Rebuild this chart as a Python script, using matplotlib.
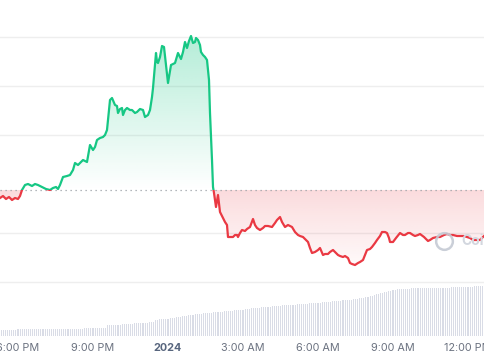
import numpy as np
import matplotlib.pyplot as plt
from matplotlib.path import Path
from matplotlib.patches import Rectangle
from matplotlib.colors import to_rgb

plt.rcParams['font.family'] = ['Inter', 'DejaVu Sans']

# price readings, time in hours since 2023-12-31 00:00
hours = [17.28, 17.40, 17.52, 17.64, 17.76, 17.88, 18.00, 18.08, 18.16, 18.28,
         18.40, 18.56, 18.68, 18.80, 18.96, 19.12, 19.28, 19.40, 19.52, 19.60,
         19.68, 19.80, 19.96, 20.08, 20.20, 20.28, 20.40, 20.52, 20.60, 20.76,
         20.88, 21.00, 21.08, 21.16, 21.28, 21.40, 21.48, 21.56, 21.68, 21.76,
         21.88, 21.96, 22.00, 22.08, 22.16, 22.20, 22.28, 22.36, 22.48, 22.56,
         22.68, 22.76, 22.88, 23.00, 23.08, 23.20, 23.28, 23.36, 23.40, 23.52,
         23.56, 23.60, 23.68, 23.76, 23.84, 23.92, 24.00, 24.12, 24.20, 24.28,
         24.40, 24.52, 24.60, 24.68, 24.76, 24.84, 24.92, 25.00, 25.08, 25.12,
         25.20, 25.28, 25.32, 25.40, 25.48, 25.56, 25.64, 25.68, 25.76, 25.80,
         25.84, 25.92, 26.00, 26.08, 26.20, 26.28, 26.36, 26.40, 26.52, 26.60,
         26.68, 26.76, 26.80, 26.88, 26.96, 27.08, 27.16, 27.28, 27.40, 27.48,
         27.56, 27.68, 27.80, 27.88, 28.00, 28.16, 28.28, 28.36, 28.48, 28.56,
         28.68, 28.80, 28.96, 29.08, 29.20, 29.28, 29.40, 29.52, 29.60, 29.68,
         29.76, 29.88, 30.00, 30.08, 30.20, 30.28, 30.40, 30.48, 30.60, 30.68,
         30.80, 30.88, 31.00, 31.08, 31.20, 31.28, 31.36, 31.48, 31.60, 31.68,
         31.80, 31.88, 31.96, 32.08, 32.16, 32.28, 32.36, 32.48, 32.56, 32.68,
         32.76, 32.84, 32.88, 33.00, 33.12, 33.28, 33.40, 33.48, 33.60, 33.68,
         33.80, 33.88, 34.00, 34.08, 34.24, 34.40, 34.48, 34.60, 34.76, 34.88,
         35.04, 35.16, 35.28, 35.40, 35.56, 35.68, 35.84, 35.96, 36.08, 36.20,
         36.36, 36.48, 36.60, 36.68]
price = [0.984, 0.986, 0.983, 0.985, 0.982, 0.984, 0.983, 0.986, 0.992, 0.997,
         0.998, 0.996, 0.998, 0.997, 0.995, 0.993, 0.992, 0.994, 0.995, 0.993,
         0.997, 1.005, 1.006, 1.007, 1.012, 1.019, 1.017, 1.020, 1.022, 1.020,
         1.037, 1.032, 1.035, 1.042, 1.044, 1.045, 1.047, 1.052, 1.082, 1.084,
         1.077, 1.076, 1.069, 1.073, 1.074, 1.067, 1.072, 1.074, 1.072, 1.072,
         1.069, 1.070, 1.073, 1.072, 1.065, 1.067, 1.072, 1.085, 1.094, 1.129,
         1.120, 1.119, 1.125, 1.136, 1.135, 1.117, 1.099, 1.117, 1.118, 1.119,
         1.129, 1.123, 1.130, 1.140, 1.134, 1.141, 1.146, 1.139, 1.140, 1.144,
         1.142, 1.137, 1.130, 1.127, 1.125, 1.122, 1.102, 1.069, 1.022, 0.995,
         0.989, 0.975, 0.987, 0.970, 0.964, 0.960, 0.957, 0.945, 0.945, 0.945,
         0.947, 0.947, 0.945, 0.949, 0.952, 0.951, 0.953, 0.955, 0.963, 0.957,
         0.954, 0.952, 0.954, 0.956, 0.956, 0.955, 0.959, 0.962, 0.965, 0.960,
         0.955, 0.957, 0.955, 0.950, 0.947, 0.946, 0.945, 0.942, 0.940, 0.934,
         0.929, 0.930, 0.932, 0.934, 0.927, 0.928, 0.928, 0.930, 0.932, 0.930,
         0.927, 0.926, 0.925, 0.926, 0.924, 0.919, 0.918, 0.917, 0.919, 0.920,
         0.922, 0.927, 0.932, 0.933, 0.935, 0.939, 0.942, 0.946, 0.950, 0.950,
         0.949, 0.944, 0.940, 0.940, 0.944, 0.949, 0.947, 0.947, 0.949, 0.949,
         0.947, 0.946, 0.947, 0.948, 0.945, 0.941, 0.942, 0.944, 0.945, 0.945,
         0.947, 0.948, 0.947, 0.947, 0.946, 0.946, 0.946, 0.945, 0.944, 0.942,
         0.942, 0.942, 0.945, 0.947]
open_price = 0.992

# 5-minute volume bars starting 17:20
volume = [6.4, 6.4, 6.4, 6.5, 6.5, 6.5, 6.5, 6.5,
          6.6, 6.6, 6.6, 6.6, 6.7, 6.7, 6.7, 6.7, 6.8, 6.8, 6.8, 6.8,
          6.9, 6.9, 6.9, 7.0, 7.0, 7.0, 7.0, 7.1, 7.1, 7.1, 7.2, 7.2,
          7.2, 7.3, 7.3, 7.3, 7.4, 7.4, 7.5, 7.5, 7.6, 7.6, 7.7, 7.7,
          7.8, 7.8, 7.9, 8.0, 8.0, 8.1, 8.2, 10.8, 11.0, 11.1, 11.2, 11.3,
          11.4, 11.5, 11.6, 11.8, 12.0, 12.1, 12.3, 12.4, 12.6, 12.8, 12.9, 13.0,
          13.1, 13.3, 13.5, 13.6, 13.8, 14.0, 16.2, 16.4, 16.6, 16.8, 17.0, 17.2,
          17.5, 17.8, 18.1, 18.4, 18.7, 19.0, 19.4, 19.7, 20.0, 20.3, 20.6, 21.0,
          21.3, 21.6, 21.9, 22.2, 22.5, 22.7, 22.9, 23.1, 23.3, 23.5, 23.7, 23.9,
          24.1, 24.3, 24.5, 24.7, 24.9, 25.0, 25.2, 25.4, 25.6, 25.8, 26.0, 26.2,
          26.5, 26.8, 27.1, 27.4, 27.6, 27.8, 28.0, 28.2, 28.4, 28.6, 28.8, 29.0,
          29.2, 29.4, 29.6, 29.8, 30.0, 30.2, 30.4, 30.6, 30.7, 30.8, 30.9, 31.0,
          31.2, 31.4, 31.6, 31.8, 32.0, 32.2, 32.4, 32.5, 32.6, 32.7, 32.8, 33.0,
          33.2, 33.4, 33.6, 33.8, 34.0, 34.2, 34.4, 34.6, 34.8, 35.0, 35.2, 35.4,
          35.6, 35.8, 36.0, 36.2, 36.5, 36.8, 37.1, 37.4, 37.7, 38.0, 38.4, 38.8,
          39.3, 39.8, 40.4, 41.0, 41.6, 42.2, 42.8, 43.4, 44.0, 44.5, 45.0, 45.5,
          46.0, 46.4, 46.7, 46.9, 47.1, 47.2, 47.3, 47.4, 47.5, 47.6, 47.6, 47.7,
          47.7, 47.8, 47.8, 47.9, 47.9, 48.0, 48.0, 48.1, 48.1, 48.2, 48.2, 48.3,
          48.3, 48.4, 48.4, 48.5, 48.6, 48.7, 48.8, 48.9, 49.0, 49.1, 49.2, 49.3,
          49.4, 49.5, 49.5, 49.6, 49.6, 49.7, 49.7, 49.8, 49.8]
vol_start = 17 + 20 / 60
vol_step = 5 / 60

tick_hours = [18, 21, 24, 27, 30, 33, 36]
tick_labels = ['6:00 PM', '9:00 PM', '2024', '3:00 AM', '6:00 AM', '9:00 AM', '12:00 PM']

assert len(hours) == len(price)

green = '#16c784'
red = '#ea3943'
x = np.array(hours)
y = np.array(price)
xlim = (17.28, 36.68)


def gradient_fill(ax, lo, hi, color, a_lo, a_hi):
    poly = ax.fill_between(x, y, open_price, color='none', lw=0)
    clip = Path.make_compound_path(*poly.get_paths())
    img = np.zeros((256, 1, 4))
    img[..., :3] = to_rgb(color)
    img[..., 3] = np.linspace(a_lo, a_hi, 256)[:, None]
    im = ax.imshow(img, extent=[xlim[0], xlim[1], lo, hi], origin='lower',
                   aspect='auto', interpolation='bilinear', zorder=1)
    im.set_clip_path(clip, transform=ax.transData)


fig = plt.figure(figsize=(4.85, 3.6), dpi=100)
axv = fig.add_axes([0, 24 / 360, 1, 60 / 360])
ax = fig.add_axes([0, 24 / 360, 1, 336 / 360], sharex=axv)
ax.patch.set_alpha(0)
axv.patch.set_alpha(0)

# volume
vol_x = vol_start + np.arange(len(volume)) * vol_step
axv.bar(vol_x, volume, width=0.045, color='#d9dce6', lw=0)
axv.set_ylim(0, 60)
axv.set_yticks([])
axv.set_xticks(tick_hours)
axv.set_xticklabels(tick_labels, fontsize=7.8, color='#6b7280')
for lab in axv.get_xticklabels():
    if lab.get_text() == '2024':
        lab.set_fontweight('bold')
        lab.set_color('#58667e')
axv.tick_params(axis='x', length=0, pad=5)
for s in axv.spines.values():
    s.set_visible(False)

# price
gradient_fill(ax, open_price, y.max(), green, 0.0, 0.32)
gradient_fill(ax, y.min(), open_price, red, 0.03, 0.18)

ln_g, = ax.plot(x, y, color=green, lw=1.6, zorder=3, solid_joinstyle='round')
ln_g.set_clip_path(Rectangle((xlim[0] - 1, open_price), 30, 1, transform=ax.transData))
ln_r, = ax.plot(x, y, color=red, lw=1.6, zorder=3, solid_joinstyle='round')
ln_r.set_clip_path(Rectangle((xlim[0] - 1, 0), 30, open_price, transform=ax.transData))

ax.axhline(open_price, color='#9aa0a6', lw=0.9, ls=(0, (1, 3)), zorder=2)

ax.set_yticks([0.900, 0.949, 1.047, 1.096, 1.145])
ax.grid(axis='y', color='#eeeeee', lw=1)
ax.set_axisbelow(True)
ax.tick_params(left=False, labelleft=False, bottom=False, labelbottom=False)
for s in ax.spines.values():
    s.set_visible(False)
ax.set_xlim(*xlim)
ax.set_ylim(0.846, 1.182)

# watermark
ax.plot([0.9155], [0.283], transform=ax.transAxes, marker='o', ms=12,
        mfc='none', mec='#c5cad4', mew=1.8, alpha=0.9, zorder=5)
ax.text(0.952, 0.283, 'CoinGecko', transform=ax.transAxes, va='center',
        ha='left', fontsize=10, fontweight='bold', color='#d3d7df', zorder=5)

fig.savefig('out.png', dpi=100)
